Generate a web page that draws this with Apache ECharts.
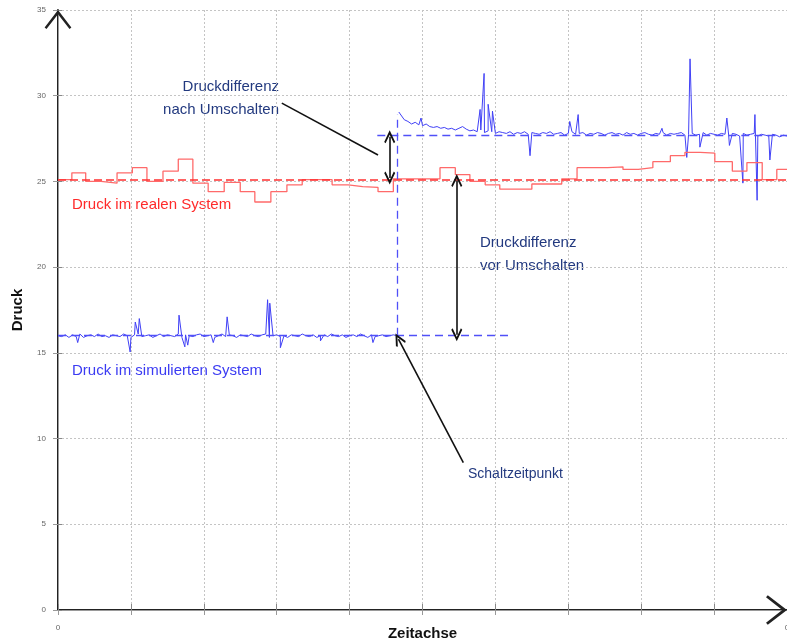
<!DOCTYPE html>
<html><head><meta charset="utf-8">
<script src="https://cdn.jsdelivr.net/npm/echarts@6/dist/echarts.min.js"></script>
<style>html,body{margin:0;padding:0;background:#fff}#c{width:787px;height:638px}</style>
</head><body><div id="c"></div>
<script>
// Real system pressure (step signal): step start times and values
const redT = [0,0.19,0.38,0.59,0.81,1.02,1.22,1.44,1.65,1.85,2.06,2.28,2.50,2.70,2.92,3.14,3.35,3.55,3.76,3.98,4.18,4.39,4.60,4.80,5.02,5.24,5.45,5.65,5.86,6.06,6.28,6.50,6.71,6.91,7.12,7.34,7.54,7.75,7.96,8.16,8.40,8.60,8.81,9.01,9.25,9.45,9.66,9.86,10];
const redV = [25.1,25.5,25.0,24.9,25.5,25.8,25.0,25.6,26.3,24.9,24.4,24.95,24.4,23.8,24.4,24.8,25.1,25.1,24.8,24.7,24.65,24.4,25.15,25.15,25.15,25.8,25.4,25.0,24.8,24.55,24.55,24.85,24.85,25.15,25.8,25.8,25.85,25.7,25.8,26.15,26.5,26.7,26.65,26.15,25.6,26.1,25.1,25.7,25.7];
const realLevel = 25.1;

// Simulated system pressure before switching: samples every 0.05 from t=0
const simBeforeStart = 0, simStep = 0.05;
const simBeforeVals = [
16.0,15.95,16.05,15.9,16.05,15.95,16.1,15.9,16.0,16.05,
15.95,16.1,15.95,16.0,15.9,16.05,16.0,15.95,16.1,16.0,
15.9,16.05,16.1,15.95,16.0,16.05,15.9,16.0,16.1,15.95,
16.05,16.0,15.95,16.1,15.9,16.05,16.0,15.95,16.05,16.1,
15.95,16.0,16.05,15.9,16.0,16.1,15.95,16.05,16.0,15.9,
16.05,16.0,15.95,16.1,16.0,15.95,16.05,16.1,15.9,16.0,
16.05,15.95,16.0,15.9,16.05,16.0,15.95,16.1,16.0,15.95,
16.05,15.9,16.0,16.05,15.95,16.1,16.0,15.95,16.05,15.9,
16.0,16.05,15.95,16.1,16.0,15.9,16.05,15.95,16.0,16.05,
15.95,16.0,16.05,16.0];
const simBeforeSpikes = [[0.27,15.6],[0.99,15.05],[1.06,16.8],[1.115,17.0],[1.66,17.2],[1.74,15.35],[1.78,15.45],[2.13,15.6],[2.32,17.1],[2.875,18.1],[2.905,17.9],[3.05,15.3],[3.6,15.7],[4.32,15.6]];

// Simulated system pressure after switching: samples every 0.05 from t=4.70
const simAfterStart = 4.70;
const simAfterVals = [
28.95,28.6,28.5,28.35,28.45,28.3,28.25,28.35,28.2,28.15,
28.2,28.1,28.15,28.05,28.1,28.0,28.1,28.2,28.05,27.95,
28.0,27.9,28.0,27.85,27.95,27.9,27.8,27.9,27.85,27.8,
27.9,27.75,27.85,27.8,27.9,27.75,27.85,27.8,27.75,27.85,
27.8,27.9,27.75,27.8,27.85,27.7,27.8,27.9,27.75,27.8,
27.85,27.7,27.8,27.75,27.85,27.8,27.7,27.8,27.85,27.75,
27.8,27.7,27.85,27.75,27.8,27.7,27.8,27.85,27.75,27.7,
27.8,27.75,27.85,27.7,27.8,27.75,27.8,27.85,27.7,27.75,
27.8,27.7,27.75,27.85,27.7,27.8,27.75,27.7,27.8,27.75,
27.7,27.8,27.75,27.65,27.8,27.7,27.75,27.8,27.65,27.75,
27.7,27.65,27.75,27.7,27.6,27.7,27.65];
const simAfterSpikes = [[4.675,29.05],[4.98,28.7],[5.79,29.2],[5.845,31.3],[5.90,29.5],[5.96,29.1],[6.475,26.5],[7.02,28.5],[7.135,28.9],[8.285,28.1],[8.625,26.4],[8.67,32.15],[8.805,27.0],[9.175,28.7],[9.21,27.1],[9.395,24.9],[9.56,28.9],[9.59,23.9],[9.765,26.25]];

// Reference levels / switching instant
const simLevelBefore = 16.0, simLevelBeforeEnd = 6.22;
const simLevelAfter = 27.7, simLevelAfterStart = 4.38;
const switchT = 4.66, switchTop = 28.9;

// Axis ticks
const yTicks = [0,5,10,15,20,25,30,35];
const xMin = 0, xMax = 10, xInterval = 1;

function build(start, vals, spikes) {
  const pts = vals.map((v, i) => [+(start + i * simStep).toFixed(4), v]);
  return pts.concat(spikes).sort((a, b) => a[0] - b[0]);
}
const redData = redT.map((t, i) => [t, redV[i]]);
const simBefore = build(simBeforeStart, simBeforeVals, simBeforeSpikes);
const simAfter = build(simAfterStart, simAfterVals, simAfterSpikes);

const chev = 'path://M10,0 L20,12 L17.5,13.5 L10,4.5 L2.5,13.5 L0,12 Z';
const axisChev = 'path://M10,0 L20,13 L18.6,14.2 L10,3.2 L1.4,14.2 L0,13 Z';
const navy = '#22397f';
const font = '"Liberation Sans", Arial, sans-serif';

const chart = echarts.init(document.getElementById('c'), null, {renderer: 'canvas'});
const gridLine = {show: true, lineStyle: {color: '#c4c4c4', width: 1, type: [2, 2]}};
chart.setOption({
  animation: false,
  backgroundColor: '#fff',
  grid: {left: 58, right: 0, top: 10, bottom: 28, containLabel: false, outerBoundsMode: 'none'},
  xAxis: [{
    type: 'value', min: xMin, max: xMax, interval: xInterval,
    name: 'Zeitachse', nameLocation: 'middle', nameGap: 24, nameMoveOverlap: false,
    nameTextStyle: {fontFamily: font, fontWeight: 'bold', fontSize: 15, color: '#111', verticalAlign: 'middle'},
    axisLine: {show: true, onZero: false, lineStyle: {color: '#222', width: 2}, symbol: ['none', axisChev], symbolSize: [30, 21], symbolOffset: [0, -10.5]},
    axisTick: {show: true, inside: true, length: 6, lineStyle: {color: '#888'}},
    axisLabel: {show: true, fontSize: 8, color: '#666', margin: 14, fontFamily: font, showMaxLabel: true,
      formatter: v => (v === xMin || v === xMax) ? '0' : ''},
    splitLine: gridLine
  }, {
    type: 'value', min: xMin, max: xMax, interval: xInterval, position: 'top',
    axisLine: {show: true, lineStyle: {color: '#9a9a9a', width: 1}},
    axisTick: {show: true, inside: true, length: 5, lineStyle: {color: '#999'}},
    axisLabel: {show: false}, splitLine: {show: false}
  }],
  yAxis: [{
    type: 'value', min: 0, max: 35, interval: 5,
    name: 'Druck', nameLocation: 'middle', nameGap: 33, nameRotate: 90,
    nameTextStyle: {fontFamily: font, fontWeight: 'bold', fontSize: 15, color: '#111'},
    axisLine: {show: true, onZero: false, lineStyle: {color: '#222', width: 2}, symbol: ['none', axisChev], symbolSize: [27, 19], symbolOffset: [0, -9.5]},
    axisTick: {show: true, inside: true, length: 4, lineStyle: {color: '#888'}},
    axisLabel: {show: true, fontSize: 8, color: '#666', margin: 12, fontFamily: font,
      formatter: v => yTicks.indexOf(v) >= 0 ? String(v) : ''},
    splitLine: gridLine
  }, {
    type: 'value', min: 0, max: 35, interval: 5, position: 'right',
    axisLine: {show: true, lineStyle: {color: '#9a9a9a', width: 1}},
    axisTick: {show: true, inside: true, length: 5, lineStyle: {color: '#999'}},
    axisLabel: {show: false}, splitLine: {show: false}
  }],
  series: [
    {
      name: 'sim-before', type: 'line', data: simBefore, showSymbol: false, silent: true,
      lineStyle: {color: '#4040f6', width: 1}, z: 3,
      markLine: {
        silent: true, symbol: ['none', 'none'], label: {show: false},
        lineStyle: {color: '#5050f8', width: 1.3, type: [8, 5]},
        data: [
          [{coord: [xMin, simLevelBefore]}, {coord: [simLevelBeforeEnd, simLevelBefore]}],
          [{coord: [simLevelAfterStart, simLevelAfter]}, {coord: [xMax, simLevelAfter]}],
          [{coord: [switchT, simLevelBefore]}, {coord: [switchT, switchTop]}]
        ]
      }
    },
    {
      name: 'sim-after', type: 'line', data: simAfter, showSymbol: false, silent: true,
      lineStyle: {color: '#4040f6', width: 1}, z: 3
    },
    {
      name: 'real', type: 'line', step: 'end', data: redData, showSymbol: false, silent: true,
      lineStyle: {color: '#ff6a6a', width: 1.3}, z: 4,
      markLine: {
        silent: true, symbol: ['none', 'none'], label: {show: false},
        lineStyle: {color: '#ff3030', width: 1.6, type: [8, 4]},
        data: [[{coord: [xMin, realLevel]}, {coord: [xMax, realLevel]}]]
      }
    },
    {
      name: 'annot', type: 'line', data: [], silent: true, z: 6,
      markLine: {
        silent: true, label: {show: false}, symbol: ['none', 'none'],
        lineStyle: {color: '#111', width: 1.6, type: 'solid'},
        data: [
          [{coord: [3.07, 29.57], symbol: 'none'}, {coord: [4.39, 26.54], symbol: 'none'}],
          [{coord: [4.55, 27.6], symbol: chev, symbolSize: [11, 13]}, {coord: [4.55, 25.2], symbol: chev, symbolSize: [11, 13]}],
          [{coord: [5.47, 25.05], symbol: chev, symbolSize: [11, 13]}, {coord: [5.47, 16.05], symbol: chev, symbolSize: [11, 13]}],
          [{coord: [5.56, 8.6], symbol: 'none'}, {coord: [4.67, 15.8], symbol: chev, symbolSize: [11, 13]}]
        ]
      }
    }
  ],
  graphic: [
    {type: 'text', style: {text: 'Druckdifferenz', x: 279, y: 87, textAlign: 'right', textVerticalAlign: 'middle', fill: navy, font: '15px ' + font}},
    {type: 'text', style: {text: 'nach Umschalten', x: 279, y: 110, textAlign: 'right', textVerticalAlign: 'middle', fill: navy, font: '15px ' + font}},
    {type: 'text', style: {text: 'Druckdifferenz', x: 480, y: 243, textAlign: 'left', textVerticalAlign: 'middle', fill: navy, font: '15px ' + font}},
    {type: 'text', style: {text: 'vor Umschalten', x: 480, y: 266, textAlign: 'left', textVerticalAlign: 'middle', fill: navy, font: '15px ' + font}},
    {type: 'text', style: {text: 'Schaltzeitpunkt', x: 468, y: 474, textAlign: 'left', textVerticalAlign: 'middle', fill: navy, font: '14px ' + font}},
    {type: 'text', style: {text: 'Druck im realen System', x: 72, y: 205, textAlign: 'left', textVerticalAlign: 'middle', fill: '#ff2a2a', font: '15px ' + font}},
    {type: 'text', style: {text: 'Druck im simulierten System', x: 72, y: 371, textAlign: 'left', textVerticalAlign: 'middle', fill: '#3b3bf2', font: '15px ' + font}}
  ]
});
</script>
</body></html>
